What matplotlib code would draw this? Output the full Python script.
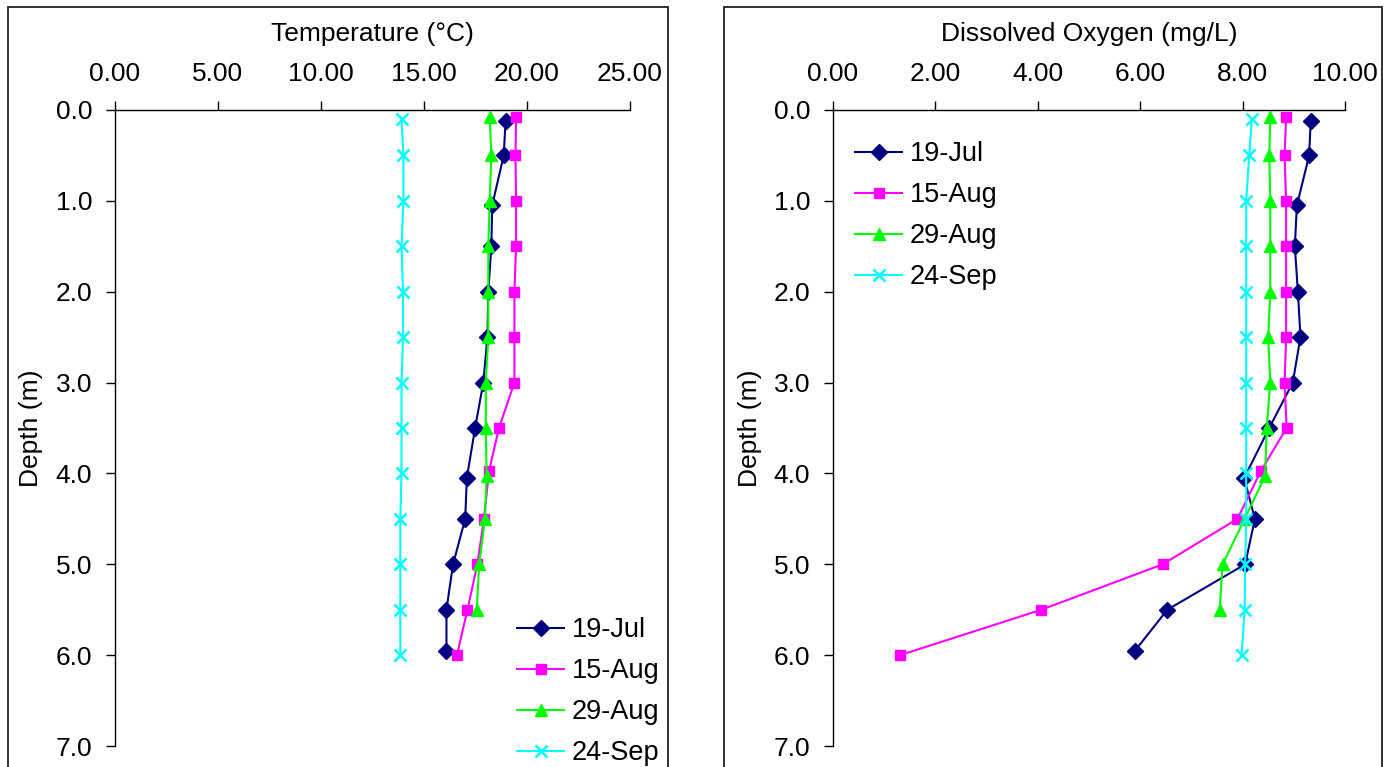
import matplotlib
matplotlib.use("Agg")
import matplotlib.pyplot as plt
from matplotlib.patches import Rectangle
from matplotlib.ticker import FormatStrFormatter, MultipleLocator

plt.rcParams['font.family'] = ['Liberation Sans', 'DejaVu Sans']

# ===== Data =====
dates = ["19-Jul", "15-Aug", "29-Aug", "24-Sep"]

jul_depth = [0.12, 0.5, 1.05, 1.5, 2.0, 2.5, 3.0, 3.5, 4.05, 4.5, 5.0, 5.5, 5.95]
aug15_depth = [0.08, 0.5, 1.0, 1.5, 2.0, 2.5, 3.0, 3.5, 3.97, 4.5, 5.0, 5.5, 6.0]
aug29_depth = [0.08, 0.5, 1.0, 1.5, 2.0, 2.5, 3.0, 3.5, 4.03, 4.5, 5.0, 5.5]
sep_depth = [0.1, 0.5, 1.0, 1.5, 2.0, 2.5, 3.0, 3.5, 4.0, 4.5, 5.0, 5.5, 6.0]

jul_temp = [18.96, 18.87, 18.31, 18.27, 18.12, 18.08, 17.88, 17.48, 17.08, 17.00, 16.41, 16.09, 16.09]
aug15_temp = [19.47, 19.44, 19.47, 19.47, 19.39, 19.39, 19.39, 18.64, 18.16, 17.91, 17.59, 17.11, 16.60]
aug29_temp = [18.19, 18.27, 18.19, 18.12, 18.12, 18.12, 18.00, 18.00, 18.04, 17.96, 17.68, 17.56]
sep_temp = [13.91, 14.00, 14.00, 13.91, 13.98, 13.98, 13.91, 13.91, 13.91, 13.85, 13.85, 13.85, 13.85]

jul_do = [9.33, 9.30, 9.06, 9.02, 9.08, 9.13, 8.98, 8.52, 8.03, 8.24, 8.05, 6.53, 5.90]
aug15_do = [8.85, 8.82, 8.85, 8.85, 8.85, 8.85, 8.82, 8.86, 8.36, 7.90, 6.44, 4.07, 1.31]
aug29_do = [8.54, 8.52, 8.54, 8.54, 8.54, 8.50, 8.54, 8.47, 8.44, 8.04, 7.61, 7.55]
sep_do = [8.18, 8.13, 8.07, 8.07, 8.07, 8.07, 8.07, 8.07, 8.07, 8.07, 8.05, 8.04, 7.98]

# ===== Styles =====
colors = ["#000080", "#FF00FF", "#00FF00", "#00FFFF"]
markers = ["D", "s", "^", "x"]
msizes = [8, 7.5, 9, 9]

W, H = 1390, 767
fig = plt.figure(figsize=(W / 100, H / 100), dpi=100)

def fx(px):
    return px / W

def fy(py):
    return 1 - py / H

# outer chart boxes
for x0, x1 in [(8, 668), (724, 1382)]:
    fig.patches.append(Rectangle((fx(x0), fy(790)), fx(x1 - x0), (790 - 7) / H,
                                 transform=fig.transFigure, fill=False,
                                 edgecolor="#222222", lw=1.3))

ax1 = fig.add_axes([fx(115), fy(746), fx(630 - 115), (746 - 110) / H])
ax2 = fig.add_axes([fx(833), fy(746), fx(1345 - 833), (746 - 110) / H])

def draw(ax, series, depths):
    for vals, d, c, m, ms, lab in zip(series, depths, colors, markers, msizes, dates):
        ax.plot(vals, d, color=c, marker=m, markersize=ms, lw=1.5,
                markeredgewidth=1.8 if m == "x" else 1.0, label=lab)

depths = [jul_depth, aug15_depth, aug29_depth, sep_depth]
draw(ax1, [jul_temp, aug15_temp, aug29_temp, sep_temp], depths)
draw(ax2, [jul_do, aug15_do, aug29_do, sep_do], depths)

ax1.set_xlim(0, 25)
ax1.xaxis.set_major_locator(MultipleLocator(5))
ax2.set_xlim(0, 10)
ax2.xaxis.set_major_locator(MultipleLocator(2))

for ax, title in [(ax1, "Temperature (°C)"), (ax2, "Dissolved Oxygen (mg/L)")]:
    ax.set_ylim(7, 0)
    ax.yaxis.set_major_locator(MultipleLocator(1))
    ax.xaxis.set_major_formatter(FormatStrFormatter("%.2f"))
    ax.yaxis.set_major_formatter(FormatStrFormatter("%.1f"))
    ax.xaxis.tick_top()
    ax.xaxis.set_label_position("top")
    ax.spines["right"].set_visible(False)
    ax.spines["bottom"].set_visible(False)
    for s in ("left", "top"):
        ax.spines[s].set_linewidth(1.0)
    ax.tick_params(axis="x", direction="out", length=6.5, width=1.0, pad=11, labelsize=19)
    ax.tick_params(axis="y", direction="out", length=6.5, width=1.0, pad=10, labelsize=19)
    ax.set_xlabel(title, fontsize=19, labelpad=15)
    ax.set_ylabel("Depth (m)", fontsize=19)
    ax.yaxis.set_label_coords(-0.139, 0.5)
    ax.set_facecolor("none")

leg_kw = dict(frameon=False, fontsize=19.5, handlelength=1.75, handletextpad=0.28,
              labelspacing=0.56, borderpad=0, borderaxespad=0, loc="upper left",
              bbox_transform=fig.transFigure)
ax1.legend(bbox_to_anchor=(fx(517), fy(617)), **leg_kw)
ax2.legend(bbox_to_anchor=(fx(855), fy(141)), **leg_kw)

fig.savefig("out.png", dpi=100)
